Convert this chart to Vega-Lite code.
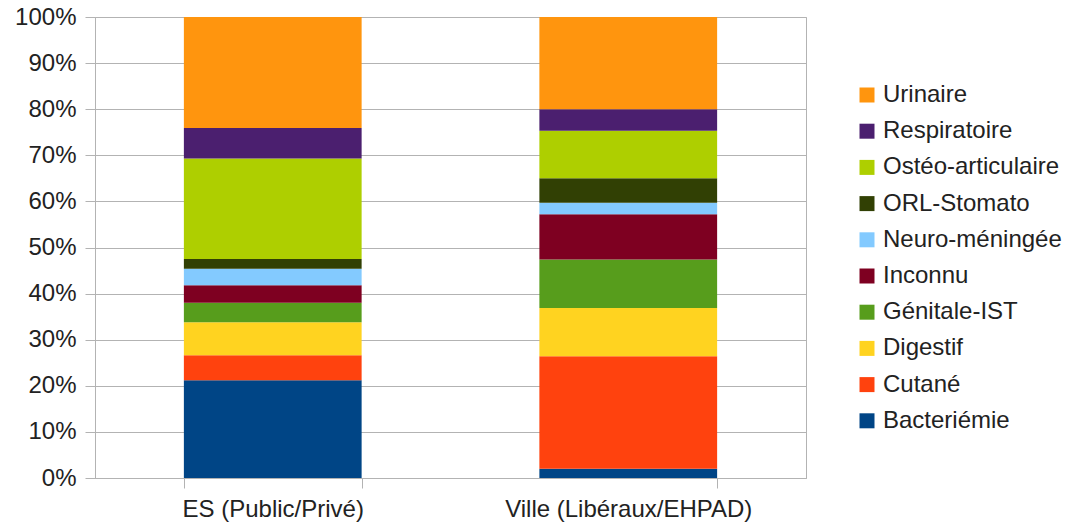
{
  "$schema": "https://vega.github.io/schema/vega-lite/v6.json",
  "autosize": "none",
  "width": 711,
  "height": 461,
  "padding": {"left": 95, "top": 17, "right": 270, "bottom": 47},
  "background": "white",
  "config": {
    "font": "Liberation Sans",
    "view": {"stroke": "#b3b3b3", "strokeWidth": 1},
    "axis": {"labelFont": "Liberation Sans", "labelColor": "#222222", "domainColor": "#b3b3b3", "tickColor": "#b3b3b3", "gridColor": "#b3b3b3"}
  },
  "data": {
    "values": [
      {"site": "ES (Public/Privé)", "cat": "Bacteriémie", "k": 1, "v": 0.212},
      {"site": "ES (Public/Privé)", "cat": "Cutané", "k": 2, "v": 0.054},
      {"site": "ES (Public/Privé)", "cat": "Digestif", "k": 3, "v": 0.072},
      {"site": "ES (Public/Privé)", "cat": "Génitale-IST", "k": 4, "v": 0.042},
      {"site": "ES (Public/Privé)", "cat": "Inconnu", "k": 5, "v": 0.038},
      {"site": "ES (Public/Privé)", "cat": "Neuro-méningée", "k": 6, "v": 0.036},
      {"site": "ES (Public/Privé)", "cat": "ORL-Stomato", "k": 7, "v": 0.021},
      {"site": "ES (Public/Privé)", "cat": "Ostéo-articulaire", "k": 8, "v": 0.218},
      {"site": "ES (Public/Privé)", "cat": "Respiratoire", "k": 9, "v": 0.066},
      {"site": "ES (Public/Privé)", "cat": "Urinaire", "k": 10, "v": 0.241},
      {"site": "Ville (Libéraux/EHPAD)", "cat": "Bacteriémie", "k": 1, "v": 0.020},
      {"site": "Ville (Libéraux/EHPAD)", "cat": "Cutané", "k": 2, "v": 0.244},
      {"site": "Ville (Libéraux/EHPAD)", "cat": "Digestif", "k": 3, "v": 0.105},
      {"site": "Ville (Libéraux/EHPAD)", "cat": "Génitale-IST", "k": 4, "v": 0.105},
      {"site": "Ville (Libéraux/EHPAD)", "cat": "Inconnu", "k": 5, "v": 0.098},
      {"site": "Ville (Libéraux/EHPAD)", "cat": "Neuro-méningée", "k": 6, "v": 0.025},
      {"site": "Ville (Libéraux/EHPAD)", "cat": "ORL-Stomato", "k": 7, "v": 0.053},
      {"site": "Ville (Libéraux/EHPAD)", "cat": "Ostéo-articulaire", "k": 8, "v": 0.103},
      {"site": "Ville (Libéraux/EHPAD)", "cat": "Respiratoire", "k": 9, "v": 0.047},
      {"site": "Ville (Libéraux/EHPAD)", "cat": "Urinaire", "k": 10, "v": 0.200}
    ]
  },
  "mark": {"type": "bar"},
  "encoding": {
    "x": {
      "field": "site", "type": "nominal", "sort": null,
      "scale": {"paddingInner": 0.5, "paddingOuter": 0.25},
      "axis": {"title": null, "labelAngle": 0, "labelFontSize": 24, "labelLimit": 0, "labelPadding": 9, "tickBand": "extent", "tickSize": 10, "domain": true}
    },
    "y": {
      "field": "v", "type": "quantitative", "stack": "zero",
      "scale": {"domain": [0, 1], "nice": false},
      "axis": {"title": null, "format": ".0%", "values": [0, 0.1, 0.2, 0.3, 0.4, 0.5, 0.6, 0.7, 0.8, 0.9, 1], "labelFontSize": 24, "labelLimit": 0, "labelPadding": 9, "tickSize": 10, "grid": true, "domain": true}
    },
    "order": {"field": "k", "type": "quantitative", "sort": "ascending"},
    "color": {
      "field": "cat", "type": "nominal",
      "scale": {
        "domain": ["Urinaire", "Respiratoire", "Ostéo-articulaire", "ORL-Stomato", "Neuro-méningée", "Inconnu", "Génitale-IST", "Digestif", "Cutané", "Bacteriémie"],
        "range": ["#ff950e", "#4b1f6f", "#aecf00", "#314004", "#83caff", "#7e0021", "#579d1c", "#ffd320", "#ff420e", "#004586"]
      },
      "legend": {
        "title": null, "orient": "none", "legendX": 760, "legendY": 66,
        "symbolType": "square", "symbolSize": 225, "symbolStrokeWidth": 0,
        "labelFontSize": 24, "labelLimit": 0, "labelFont": "Liberation Sans", "labelColor": "#222222",
        "labelOffset": 4, "rowPadding": 12.2
      }
    }
  }
}
